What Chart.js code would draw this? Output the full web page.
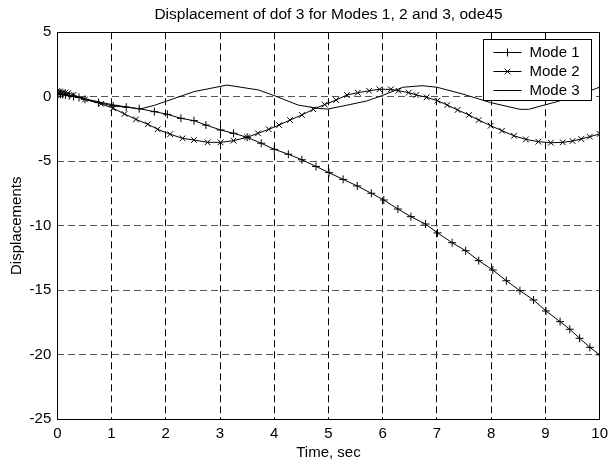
<!DOCTYPE html>
<html>
<head>
<meta charset="utf-8">
<script src="https://cdn.jsdelivr.net/npm/chart.js@4/dist/chart.umd.min.js"></script>
<style>
html,body{margin:0;padding:0;background:#fff;}
#wrap{width:614px;height:466px;position:relative;}
</style>
</head>
<body>
<div id="wrap"><canvas id="c" width="614" height="466"></canvas></div>
<script>
// ---- data ----
const titleText = "Displacement of dof 3 for Modes 1, 2 and 3, ode45";
const xLabel = "Time, sec";
const yLabel = "Displacements";
const seriesNames = ["Mode 1", "Mode 2", "Mode 3"];
const xTicks = [0,1,2,3,4,5,6,7,8,9,10];
const yTicks = [-25,-20,-15,-10,-5,0,5];

const mode1Time = [0,0.03,0.06,0.1,0.15,0.22,0.3,0.4,0.51,0.76,1.03,1.27,1.51,1.79,2.03,2.28,2.52,2.74,3.01,3.25,3.5,3.76,4.0,4.26,4.51,4.77,5.01,5.27,5.53,5.79,6.02,6.28,6.52,6.79,7.01,7.28,7.53,7.77,8.03,8.28,8.53,8.78,9.01,9.27,9.45,9.63,9.82,10];
const mode1Disp = [0.25,0.22,0.2,0.17,0.13,0.08,0.02,-0.05,-0.2,-0.45,-0.71,-0.8,-0.92,-1.15,-1.36,-1.67,-1.85,-2.19,-2.57,-2.83,-3.14,-3.6,-4.07,-4.45,-4.88,-5.4,-5.88,-6.4,-6.91,-7.48,-8.0,-8.7,-9.29,-9.86,-10.55,-11.31,-11.93,-12.7,-13.43,-14.26,-15.03,-15.75,-16.6,-17.43,-18.02,-18.72,-19.42,-20.0];

const mode2Time = [0,0.05,0.1,0.15,0.2,0.3,0.51,0.81,1.03,1.24,1.45,1.67,1.85,2.08,2.31,2.52,2.77,3.01,3.25,3.5,3.7,3.9,4.09,4.29,4.51,4.72,4.93,5.14,5.34,5.54,5.75,5.94,6.15,6.29,6.48,6.62,6.81,7.01,7.19,7.38,7.59,7.77,7.99,8.2,8.42,8.64,8.87,9.1,9.32,9.5,9.66,9.82,10];
const mode2Disp = [0.45,0.42,0.38,0.33,0.28,0.15,-0.2,-0.55,-0.89,-1.33,-1.75,-2.13,-2.52,-2.9,-3.22,-3.35,-3.53,-3.53,-3.4,-3.14,-2.83,-2.52,-2.19,-1.8,-1.41,-0.97,-0.6,-0.25,0.14,0.32,0.47,0.58,0.58,0.47,0.32,0.14,-0.04,-0.3,-0.64,-1.02,-1.41,-1.8,-2.24,-2.63,-3.02,-3.3,-3.48,-3.56,-3.53,-3.43,-3.27,-3.09,-2.88];

const mode3Time = [0,0.5,1.0,1.52,1.79,2.52,3.13,3.71,4.02,4.44,4.81,4.99,5.27,5.70,6.0,6.37,6.73,7.0,7.47,7.99,8.53,8.69,9.21,9.6,10];
const mode3Disp = [0.3,-0.15,-0.6,-0.95,-0.66,0.4,0.91,0.53,0.06,-0.64,-0.9,-0.95,-0.71,-0.33,0.11,0.74,0.86,0.74,0.22,-0.45,-0.97,-0.97,-0.38,0.1,0.75];

const pairs = (t, v) => t.map((x, i) => ({x: x, y: v[i]}));

const FONT = "'Liberation Sans', Arial, Helvetica, sans-serif";

const boxAndLegend = {
  id: 'boxAndLegend',
  afterDatasetsDraw(chart) {
    const {ctx, chartArea: a} = chart;
    ctx.save();
    // axes box
    ctx.strokeStyle = '#000';
    ctx.lineWidth = 1;
    ctx.setLineDash([]);
    ctx.strokeRect(Math.round(a.left) + 0.5, Math.round(a.top) + 0.5,
                   Math.round(a.right - a.left), Math.round(a.bottom - a.top));
    // legend
    const lx = Math.round(a.right) - 116.5, ly = Math.round(a.top) + 7.5;
    const lw = 108, lh = 61;
    ctx.fillStyle = '#fff';
    ctx.fillRect(lx, ly, lw, lh);
    ctx.strokeRect(lx, ly, lw, lh);
    ctx.font = '15px ' + FONT;
    ctx.textBaseline = 'middle';
    ctx.textAlign = 'left';
    chart.data.datasets.forEach((ds, i) => {
      const y = Math.round(ly + 12 + i * 19) + 0.5;
      const x1 = lx + 10, x2 = lx + 38, xm = (x1 + x2) / 2;
      ctx.strokeStyle = '#000';
      ctx.beginPath(); ctx.moveTo(x1, y); ctx.lineTo(x2, y); ctx.stroke();
      if (ds.pointStyle === 'cross') {
        ctx.beginPath(); ctx.moveTo(xm - 4, y); ctx.lineTo(xm + 4, y);
        ctx.moveTo(xm, y - 4); ctx.lineTo(xm, y + 4); ctx.stroke();
      } else if (ds.pointStyle === 'crossRot') {
        ctx.beginPath(); ctx.moveTo(xm - 2.8, y - 2.8); ctx.lineTo(xm + 2.8, y + 2.8);
        ctx.moveTo(xm - 2.8, y + 2.8); ctx.lineTo(xm + 2.8, y - 2.8); ctx.stroke();
      }
      ctx.fillStyle = '#000';
      ctx.fillText(ds.label, lx + 46, y);
    });
    ctx.restore();
  }
};

new Chart(document.getElementById('c'), {
  type: 'line',
  data: {
    datasets: [
      {label: seriesNames[0], data: pairs(mode1Time, mode1Disp), borderColor: '#000', borderWidth: 1,
       pointStyle: 'cross', pointRadius: 4, pointBorderColor: '#000', pointBorderWidth: 1, tension: 0},
      {label: seriesNames[1], data: pairs(mode2Time, mode2Disp), borderColor: '#000', borderWidth: 1,
       pointStyle: 'crossRot', pointRadius: 4, pointBorderColor: '#000', pointBorderWidth: 1, tension: 0},
      {label: seriesNames[2], data: pairs(mode3Time, mode3Disp), borderColor: '#000', borderWidth: 1,
       pointRadius: 0, tension: 0}
    ]
  },
  options: {
    responsive: false,
    animation: false,
    layout: {padding: {left: 0, right: 10.7, top: 0, bottom: 0}},
    plugins: {
      legend: {display: false},
      tooltip: {enabled: false},
      title: {display: true, fullSize: false, text: titleText, color: '#000',
              font: {family: FONT, size: 15.5, weight: 'normal', lineHeight: 1.2},
              padding: {top: 5, bottom: 8.7}}
    },
    scales: {
      x: {
        type: 'linear', min: xTicks[0], max: xTicks[xTicks.length - 1],
        afterBuildTicks: s => { s.ticks = xTicks.map(v => ({value: v})); },
        afterFit: s => { s.height = 46.7; },
        grid: {color: '#000', lineWidth: 1, drawTicks: false},
        border: {display: false, dash: [7, 4]},
        ticks: {color: '#000', padding: 6, maxRotation: 0, font: {family: FONT, size: 15}},
        title: {display: true, text: xLabel, color: '#000', font: {family: FONT, size: 15},
                padding: {top: 0, bottom: 4}}
      },
      y: {
        type: 'linear', min: yTicks[0], max: yTicks[yTicks.length - 1],
        afterBuildTicks: s => { s.ticks = yTicks.map(v => ({value: v})); },
        afterFit: s => { s.width = 57.3; },
        grid: {color: '#555', lineWidth: 1, drawTicks: false},
        border: {display: false, dash: [7, 4]},
        ticks: {color: '#000', padding: 6, font: {family: FONT, size: 15}},
        title: {display: true, text: yLabel, color: '#000', font: {family: FONT, size: 15},
                padding: {top: 7.4, bottom: 0}}
      }
    }
  },
  plugins: [boxAndLegend]
});
</script>
</body>
</html>
